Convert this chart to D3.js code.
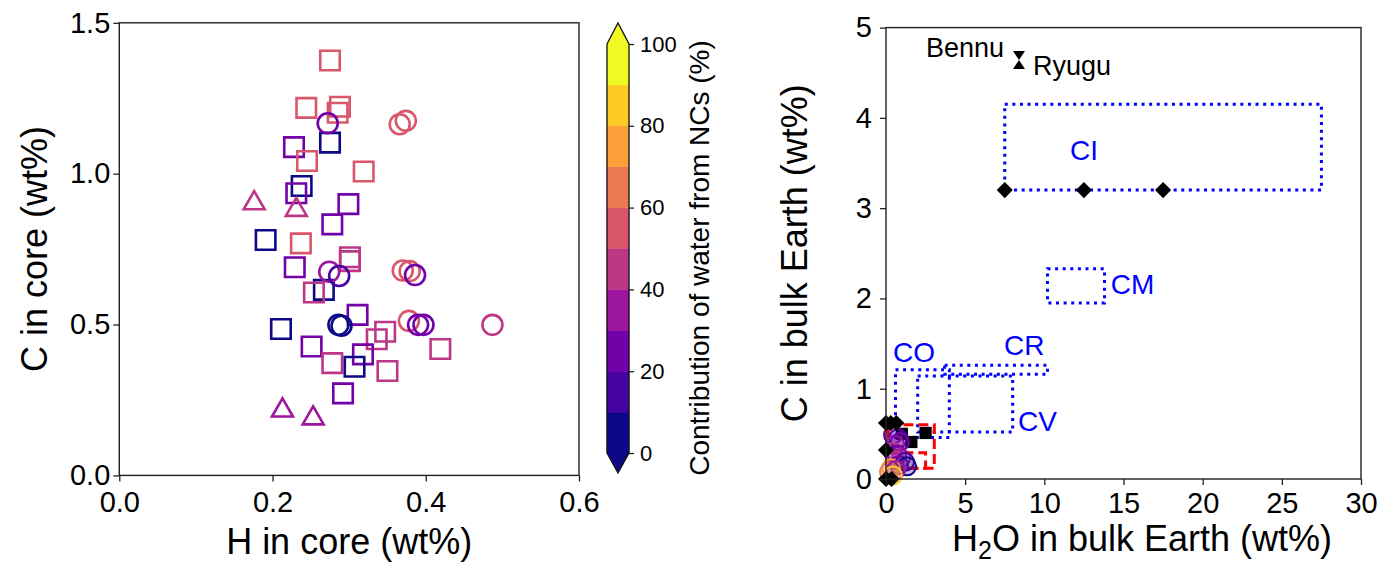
<!DOCTYPE html>
<html>
<head>
<meta charset="utf-8">
<script src="https://cdn.jsdelivr.net/npm/d3@7"></script>
<style>
  body { margin: 0; background: #fff; }
  svg text { font-family: "Liberation Sans", Arial, Helvetica, sans-serif; fill: #000; }
</style>
</head>
<body>
<svg id="grafico"></svg>
<script>
const largura = 1386;
const altura = 574;

// ---- left panel: H and C in core (x = H wt%, y = C wt%, pct = water from NCs %)
const sqH   = [0.275, 0.244, 0.288, 0.285, 0.275, 0.228, 0.245, 0.319, 0.238, 0.231, 0.299, 0.278, 0.191, 0.237, 0.301,
               0.301, 0.229, 0.267, 0.254, 0.311, 0.211, 0.347, 0.336, 0.419, 0.251, 0.318, 0.278, 0.307, 0.350, 0.292];
const sqC   = [1.375, 1.218, 1.222, 1.202, 1.103, 1.088, 1.042, 1.007, 0.959, 0.935, 0.899, 0.832, 0.780, 0.769, 0.723,
               0.710, 0.690, 0.615, 0.606, 0.532, 0.485, 0.476, 0.451, 0.419, 0.427, 0.401, 0.372, 0.360, 0.346, 0.272];
const sqPct = [55, 55, 55, 55, 5, 25, 55, 55, 5, 25, 25, 25, 5, 55, 45,
               45, 25, 5, 45, 25, 5, 45, 45, 45, 25, 25, 45, 5, 45, 25];

const ciH   = [0.272, 0.366, 0.374, 0.274, 0.287, 0.370, 0.379, 0.386, 0.286, 0.290, 0.378, 0.390, 0.397, 0.487];
const ciC   = [1.167, 1.164, 1.175, 0.675, 0.661, 0.679, 0.677, 0.664, 0.499, 0.496, 0.512, 0.499, 0.499, 0.499];
const ciPct = [25, 55, 55, 35, 15, 55, 55, 25, 5, 5, 55, 25, 25, 45];

const trH   = [0.176, 0.231, 0.213, 0.253];
const trC   = [0.902, 0.880, 0.215, 0.189];
const trPct = [45, 45, 35, 35];

const cbLevels = [0, 10, 20, 30, 40, 50, 60, 70, 80, 90, 100];
const cbTicks = [0, 20, 40, 60, 80, 100];

// ---- right panel: bulk Earth
const bkH2O = [0.44, 0.76, 0.57, 0.88, 0.44, 0.70, 0.95, 0.57, 1.20, 0.82, 1.33, 0.32, 0.19, 0.63, 0.44];
const bkC   = [0.49, 0.45, 0.38, 0.41, 0.30, 0.27, 0.23, 0.21, 0.19, 0.155, 0.14, 0.12, 0.08, 0.10, 0.04];
const bkPct = [25, 15, 35, 25, 45, 25, 35, 45, 15, 25, 5, 75, 65, 35, 85];

const dmH2O = [7.5, 12.5, 17.5, 0, 0.3, 0.65, 0, 0, 0.35];
const dmC   = [3.2, 3.2, 3.2, 0.62, 0.62, 0.62, 0.32, 0, 0];

const blkH2O = [1.0, 1.6, 2.5];
const blkC   = [0.5, 0.41, 0.51];

// chondrite groups (blue dotted ranges)
const grpName = ["CI", "CM", "CR", "CO", "CV"];
const grpX0 = [7.5, 10.2, 3.7, 0.6, 2.0];
const grpX1 = [27.5, 13.8, 10.2, 4.0, 8.0];
const grpY0 = [3.2, 1.95, 1.16, 0.46, 0.52];
const grpY1 = [4.15, 2.33, 1.26, 1.21, 1.14];
const grpLabX = [12.5, 14.2, 7.45, 0.44, 8.34];
const grpLabY = [3.53, 2.05, 1.37, 1.3, 0.53];
const grpAnchor = ["middle", "start", "start", "start", "start"];

// red dashed ranges
const redX0 = [0.15, 0.15];
const redX1 = [3.05, 2.5];
const redY0 = [0.12, 0.12];
const redY1 = [0.6, 0.29];

// Bennu / Ryugu
const astName = ["Bennu", "Ryugu"];
const astH2O = [8.4, 8.4];
const astC = [4.69, 4.59];
const astLabX = [7.45, 9.29];
const astLabY = [4.67, 4.47];

const svg = d3.select("#grafico")
  .attr("width", largura)
  .attr("height", altura);

const cor = p => d3.interpolatePlasma(Math.min(9, Math.floor(p / 10)) / 9);

// ================= left panel =================
const xL = d3.scaleLinear().domain([0, 0.6]).range([119.3, 579]);
const yL = d3.scaleLinear().domain([0, 1.5]).range([475.4, 22.8]);

const gL = svg.append("g");

const sym = (type, size) => d3.symbol().type(type).size(size)();

gL.selectAll(".sq")
  .data(d3.range(sqH.length))
  .join("path")
  .attr("d", sym(d3.symbolSquare, 380))
  .attr("transform", i => `translate(${xL(sqH[i])},${yL(sqC[i])})`)
  .attr("fill", "none")
  .attr("stroke", i => cor(sqPct[i]))
  .attr("stroke-width", 2.6);

gL.selectAll(".ci")
  .data(d3.range(ciH.length))
  .join("circle")
  .attr("cx", i => xL(ciH[i]))
  .attr("cy", i => yL(ciC[i]))
  .attr("r", 10)
  .attr("fill", "none")
  .attr("stroke", i => cor(ciPct[i]))
  .attr("stroke-width", 2.6);

gL.selectAll(".tr")
  .data(d3.range(trH.length))
  .join("path")
  .attr("d", sym(d3.symbolTriangle, 190))
  .attr("transform", i => `translate(${xL(trH[i])},${yL(trC[i])})`)
  .attr("fill", "none")
  .attr("stroke", i => cor(trPct[i]))
  .attr("stroke-width", 2.6);

// frame
gL.append("rect")
  .attr("x", xL(0)).attr("y", yL(1.5))
  .attr("width", xL(0.6) - xL(0)).attr("height", yL(0) - yL(1.5))
  .attr("fill", "none").attr("stroke", "#222").attr("stroke-width", 1.4);

const axL = gL.append("g")
  .attr("transform", `translate(0,${yL(0)})`)
  .call(d3.axisBottom(xL).tickValues([0, 0.2, 0.4, 0.6]).tickFormat(d3.format(".1f")).tickSize(6).tickPadding(10));
const ayL = gL.append("g")
  .attr("transform", `translate(${xL(0)},0)`)
  .call(d3.axisLeft(yL).tickValues([0, 0.5, 1.0, 1.5]).tickFormat(d3.format(".1f")).tickSize(6).tickPadding(3));

gL.append("text")
  .attr("x", (xL(0) + xL(0.6)) / 2).attr("y", 554)
  .attr("text-anchor", "middle").attr("font-size", 36)
  .text("H in core (wt%)");
gL.append("text")
  .attr("transform", `translate(47,${(yL(0) + yL(1.5)) / 2}) rotate(-90)`)
  .attr("text-anchor", "middle").attr("font-size", 36)
  .text("C in core (wt%)");

// ================= colorbar =================
const cb = d3.scaleLinear().domain([0, 100]).range([453, 44]);
const cbX = 607, cbW = 22;
const gC = svg.append("g");

gC.selectAll("rect")
  .data(d3.range(cbLevels.length - 1))
  .join("rect")
  .attr("x", cbX).attr("width", cbW)
  .attr("y", i => cb(cbLevels[i + 1]))
  .attr("height", i => cb(cbLevels[i]) - cb(cbLevels[i + 1]))
  .attr("fill", i => cor(cbLevels[i] + 5))
  .attr("stroke", i => cor(cbLevels[i] + 5)).attr("stroke-width", 0.5);

// extension triangles
gC.append("path")
  .attr("d", `M${cbX},${cb(100)}L${cbX + cbW / 2},${cb(100) - 21}L${cbX + cbW},${cb(100)}Z`)
  .attr("fill", cor(95));
gC.append("path")
  .attr("d", `M${cbX},${cb(0)}L${cbX + cbW / 2},${cb(0) + 20}L${cbX + cbW},${cb(0)}Z`)
  .attr("fill", cor(5));
gC.append("path")
  .attr("d", `M${cbX},${cb(100)}L${cbX + cbW / 2},${cb(100) - 21}L${cbX + cbW},${cb(100)}L${cbX + cbW},${cb(0)}L${cbX + cbW / 2},${cb(0) + 20}L${cbX},${cb(0)}Z`)
  .attr("fill", "none").attr("stroke", "#111").attr("stroke-width", 1.3);

gC.append("g")
  .attr("transform", `translate(${cbX + cbW},0)`)
  .call(d3.axisRight(cb).tickValues(cbTicks).tickSize(5).tickPadding(6));

gC.append("text")
  .attr("transform", `translate(709,258) rotate(-90)`)
  .attr("text-anchor", "middle").attr("font-size", 28)
  .text("Contribution of water from NCs (%)");

// ================= right panel =================
const xR = d3.scaleLinear().domain([0, 30]).range([886, 1361]);
const yR = d3.scaleLinear().domain([0, 5]).range([479, 27.6]);
const gR = svg.append("g");

// chondrite group ranges
gR.selectAll(".grp")
  .data(d3.range(grpName.length))
  .join("rect")
  .attr("x", i => xR(grpX0[i])).attr("y", i => yR(grpY1[i]))
  .attr("width", i => xR(grpX1[i]) - xR(grpX0[i]))
  .attr("height", i => yR(grpY0[i]) - yR(grpY1[i]))
  .attr("fill", "none").attr("stroke", "#0000ff")
  .attr("stroke-width", 3).attr("stroke-dasharray", "3 4.6");

gR.selectAll(".grplab")
  .data(d3.range(grpName.length))
  .join("text")
  .attr("x", i => xR(grpLabX[i])).attr("y", i => yR(grpLabY[i]))
  .attr("text-anchor", i => grpAnchor[i])
  .attr("font-size", 28).style("fill", "#0000ff")
  .text(i => grpName[i]);

// red dashed ranges
gR.selectAll(".red")
  .data(d3.range(redX0.length))
  .join("rect")
  .attr("x", i => xR(redX0[i])).attr("y", i => yR(redY1[i]))
  .attr("width", i => xR(redX1[i]) - xR(redX0[i]))
  .attr("height", i => yR(redY0[i]) - yR(redY1[i]))
  .attr("fill", "none").attr("stroke", "red")
  .attr("stroke-width", 3).attr("stroke-dasharray", "10 5");

// black squares
gR.selectAll(".blk")
  .data(d3.range(blkH2O.length))
  .join("path")
  .attr("d", sym(d3.symbolSquare, 150))
  .attr("transform", i => `translate(${xR(blkH2O[i])},${yR(blkC[i])})`)
  .attr("fill", "#000");

// model circles
gR.selectAll(".bk")
  .data(d3.range(bkH2O.length))
  .join("circle")
  .attr("cx", i => xR(bkH2O[i])).attr("cy", i => yR(bkC[i]))
  .attr("r", 9)
  .attr("fill", i => cor(bkPct[i])).attr("fill-opacity", 0.25)
  .attr("stroke", i => cor(bkPct[i])).attr("stroke-width", 2);

// diamonds
gR.selectAll(".dm")
  .data(d3.range(dmH2O.length))
  .join("path")
  .attr("d", sym(d3.symbolSquare, 130))
  .attr("transform", i => `translate(${xR(dmH2O[i])},${yR(dmC[i])}) rotate(45)`)
  .attr("fill", "#000");

// Bennu (down triangle) and Ryugu (up triangle)
gR.selectAll(".ast")
  .data(d3.range(astName.length))
  .join("path")
  .attr("d", i => i === 0 ? "M-6,-4.5L6,-4.5L0,4.5Z" : "M-6,4.5L6,4.5L0,-4.5Z")
  .attr("transform", i => `translate(${xR(astH2O[i])},${yR(astC[i])})`)
  .attr("fill", "#000");

gR.selectAll(".astlab")
  .data(d3.range(astName.length))
  .join("text")
  .attr("x", i => xR(astLabX[i])).attr("y", i => yR(astLabY[i]))
  .attr("text-anchor", i => i === 0 ? "end" : "start")
  .attr("font-size", 27)
  .text(i => astName[i]);

// frame
gR.append("rect")
  .attr("x", xR(0)).attr("y", yR(5))
  .attr("width", xR(30) - xR(0)).attr("height", yR(0) - yR(5))
  .attr("fill", "none").attr("stroke", "#222").attr("stroke-width", 1.4);

gR.append("g")
  .attr("transform", `translate(0,${yR(0)})`)
  .call(d3.axisBottom(xR).tickValues([0, 5, 10, 15, 20, 25, 30]).tickFormat(d3.format("d")).tickSize(6).tickPadding(7.5));
gR.append("g")
  .attr("transform", `translate(${xR(0)},0)`)
  .call(d3.axisLeft(yR).tickValues([0, 1, 2, 3, 4, 5]).tickFormat(d3.format("d")).tickSize(6).tickPadding(8));

const xlab = gR.append("text")
  .attr("x", 1142).attr("y", 551)
  .attr("text-anchor", "middle").attr("font-size", 36);
xlab.append("tspan").text("H");
xlab.append("tspan").attr("font-size", 25).attr("dy", 8).text("2");
xlab.append("tspan").attr("dy", -8).text("O in bulk Earth (wt%)");

gR.append("text")
  .attr("transform", `translate(807,${(yR(0) + yR(5)) / 2}) rotate(-90)`)
  .attr("text-anchor", "middle").attr("font-size", 36)
  .text("C in bulk Earth (wt%)");

// axis styling
svg.selectAll(".domain").remove();
svg.selectAll(".tick line").attr("stroke", "#222").attr("stroke-width", 1.3);
svg.selectAll(".tick text").attr("font-size", 29).attr("fill", "#000");
gC.selectAll(".tick text").attr("font-size", 22);
</script>
</body>
</html>
